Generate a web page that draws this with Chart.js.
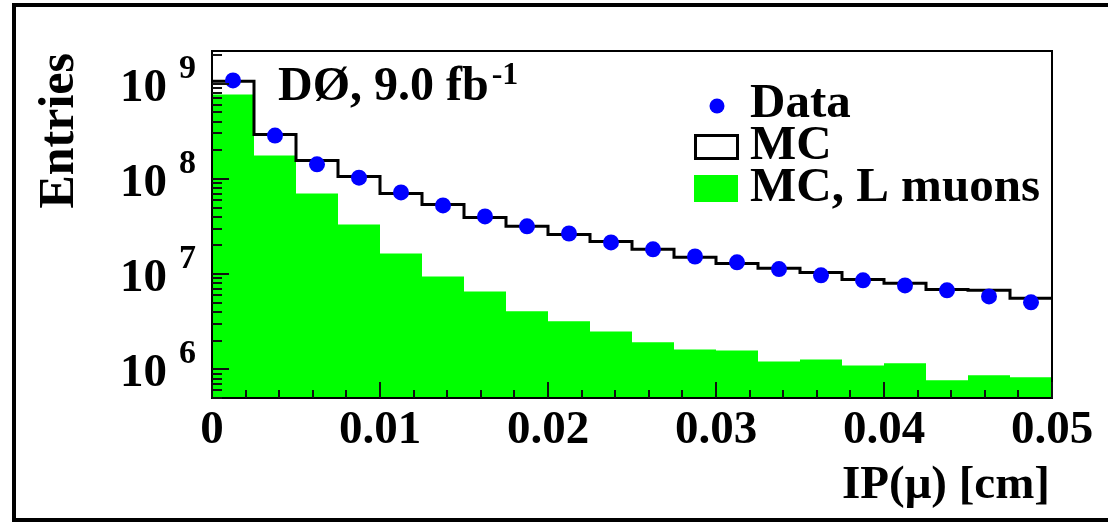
<!DOCTYPE html>
<html><head><meta charset="utf-8">
<script src="https://cdn.jsdelivr.net/npm/chart.js@4.4.0/dist/chart.umd.min.js"></script>
<style>html,body{margin:0;padding:0;background:#fff;overflow:hidden;} canvas{display:block;}</style>
</head><body>
<canvas id="c" width="1108" height="522"></canvas>
<script>
// ---- data ----
const binEdges = [0,0.0025,0.005,0.0075,0.01,0.0125,0.015,0.0175,0.02,0.0225,0.025,0.0275,0.03,0.0325,0.035,0.0375,0.04,0.0425,0.045,0.0475,0.05];
const dataCounts = [1.08e9,2.85e8,1.42e8,1.03e8,7.2e7,5.26e7,4.03e7,3.17e7,2.67e7,2.15e7,1.82e7,1.53e7,1.33e7,1.13e7,9.7e6,8.6e6,7.6e6,6.75e6,5.83e6,5.05e6];
const mcCounts = [1.06e9,2.93e8,1.56e8,1.06e8,7.03e7,5.39e7,3.94e7,3.17e7,2.61e7,2.2e7,1.82e7,1.5e7,1.29e7,1.15e7,1.04e7,8.8e6,7.99e6,6.91e6,6.75e6,5.56e6];
const mcLMuonCounts = [7.69e8,1.76e8,7.03e7,3.32e7,1.65e7,9.46e6,6.58e6,4.06e6,3.19e6,2.5e6,1.92e6,1.62e6,1.58e6,1.21e6,1.27e6,1.10e6,1.16e6,7.67e5,8.65e5,8.24e5];
const xTickValues = [0,0.01,0.02,0.03,0.04,0.05];
const xTickLabels = ['0','0.01','0.02','0.03','0.04','0.05'];
const xMinorStep = 0.002;
const yTickExponents = [6,7,8,9];
const legendLabels = ['Data','MC','MC, L muons'];
const titleText = 'D\u00D8, 9.0 fb';
const titleSup = '-1';
const xTitle = 'IP(\u03BC) [cm]';
const yTitle = 'Entries';

// ---- build datasets ----
function histPoints(counts){
  const pts = counts.map((v,i)=>({x:binEdges[i], y:v}));
  pts.push({x:binEdges[binEdges.length-1], y:counts[counts.length-1]});
  return pts;
}
const dataPoints = dataCounts.map((v,i)=>({x:(binEdges[i]+binEdges[i+1])/2, y:v}));

const FONT = '"Liberation Serif", "Times New Roman", serif';

const decor = {
  id:'decor',
  afterDraw(chart){
    const ctx = chart.ctx, xs = chart.scales.x, ys = chart.scales.y, a = chart.chartArea;
    ctx.save();
    // outer frame
    ctx.fillStyle = '#000';
    ctx.fillRect(12,3,4,519);
    ctx.fillRect(12,3,1096,4);
    ctx.fillRect(12,518,1096,4);
    // plot frame
    ctx.strokeStyle = '#000';
    ctx.lineWidth = 2;
    ctx.strokeRect(a.left, a.top, a.right-a.left, a.bottom-a.top);
    // x ticks
    ctx.lineWidth = 2;
    ctx.strokeStyle = '#111';
    const nMinor = Math.round((xs.max-xs.min)/xMinorStep);
    for(let k=0;k<=nMinor;k++){
      const v = xs.min + k*xMinorStep;
      const px = Math.round(xs.getPixelForValue(v));
      const major = (k%5===0);
      ctx.beginPath(); ctx.moveTo(px, a.bottom); ctx.lineTo(px, a.bottom-(major?16:8)); ctx.stroke();
    }
    // y ticks
    for(let d=5; d<=9; d++){
      for(let m=1;m<=9;m++){
        const v = m*Math.pow(10,d);
        if(v<ys.min || v>ys.max) continue;
        const py = Math.round(ys.getPixelForValue(v));
        ctx.beginPath(); ctx.moveTo(a.left, py); ctx.lineTo(a.left+(m===1?17:10), py); ctx.stroke();
      }
    }
    // x tick labels
    ctx.fillStyle = '#000';
    ctx.textBaseline = 'alphabetic';
    ctx.font = 'bold 47px ' + FONT;
    ctx.textAlign = 'center';
    xTickValues.forEach((v,i)=>{
      ctx.fillText(xTickLabels[i], xs.getPixelForValue(v), 443);
    });
    // y tick labels 10^n
    yTickExponents.forEach(e=>{
      const py = ys.getPixelForValue(Math.pow(10,e));
      ctx.font = 'bold 47px ' + FONT;
      ctx.textAlign = 'right';
      ctx.fillText('10', 167, py+17);
      ctx.font = 'bold 34px ' + FONT;
      ctx.textAlign = 'left';
      ctx.fillText(String(e), 179, py-6);
    });
    // axis titles
    ctx.font = 'bold 47px ' + FONT;
    ctx.textAlign = 'right';
    ctx.fillText(xTitle, 1050, 498);
    ctx.save();
    ctx.translate(73, 53);
    ctx.rotate(-Math.PI/2);
    ctx.font = 'bold 50px ' + FONT;
    ctx.textAlign = 'right';
    ctx.fillText(yTitle, 0, 0);
    ctx.restore();
    // title
    ctx.font = 'bold 48px ' + FONT;
    ctx.textAlign = 'left';
    ctx.fillText(titleText, 278, 100);
    const tw = ctx.measureText(titleText).width;
    ctx.font = 'bold 32px ' + FONT;
    ctx.fillText(titleSup, 278+tw+3, 84);
    // legend
    ctx.fillStyle = 'rgb(0,0,255)';
    ctx.beginPath(); ctx.arc(717,106,7.5,0,Math.PI*2); ctx.fill();
    ctx.fillStyle = '#fff';
    ctx.fillRect(694,134,44,25);
    ctx.strokeStyle = '#000'; ctx.lineWidth = 3;
    ctx.strokeRect(695.5,135.5,42,23);
    ctx.fillStyle = 'rgb(0,255,0)';
    ctx.fillRect(694,175,44,27);
    ctx.fillStyle = '#000';
    ctx.font = 'bold 49px ' + FONT;
    ctx.textAlign = 'left';
    ctx.fillText(legendLabels[0], 750, 117);
    ctx.fillText(legendLabels[1], 750, 159);
    ctx.fillText(legendLabels[2], 750, 201);
    ctx.restore();
  }
};

new Chart(document.getElementById('c'), {
  type:'line',
  data:{
    datasets:[
      {label:legendLabels[0], type:'scatter', data:dataPoints, showLine:false,
       pointRadius:8, pointHoverRadius:8, pointBackgroundColor:'rgb(0,0,255)', pointBorderWidth:0, order:0},
      {label:legendLabels[1], data:histPoints(mcCounts), stepped:true, borderColor:'#000', borderWidth:3,
       pointRadius:0, fill:false, order:1},
      {label:legendLabels[2], data:histPoints(mcLMuonCounts), stepped:true, borderWidth:0, borderColor:'rgba(0,0,0,0)',
       backgroundColor:'rgb(0,255,0)', pointRadius:0, fill:'start', order:2}
    ]
  },
  options:{
    responsive:false, animation:false, devicePixelRatio:1,
    layout:{padding:{left:212, right:56, top:51, bottom:124}},
    plugins:{legend:{display:false}, tooltip:{enabled:false}},
    scales:{
      x:{type:'linear', min:0, max:0.05, display:false},
      y:{type:'logarithmic', min:5e5, max:2.2e9, display:false}
    }
  },
  plugins:[decor]
});
</script>
</body></html>
